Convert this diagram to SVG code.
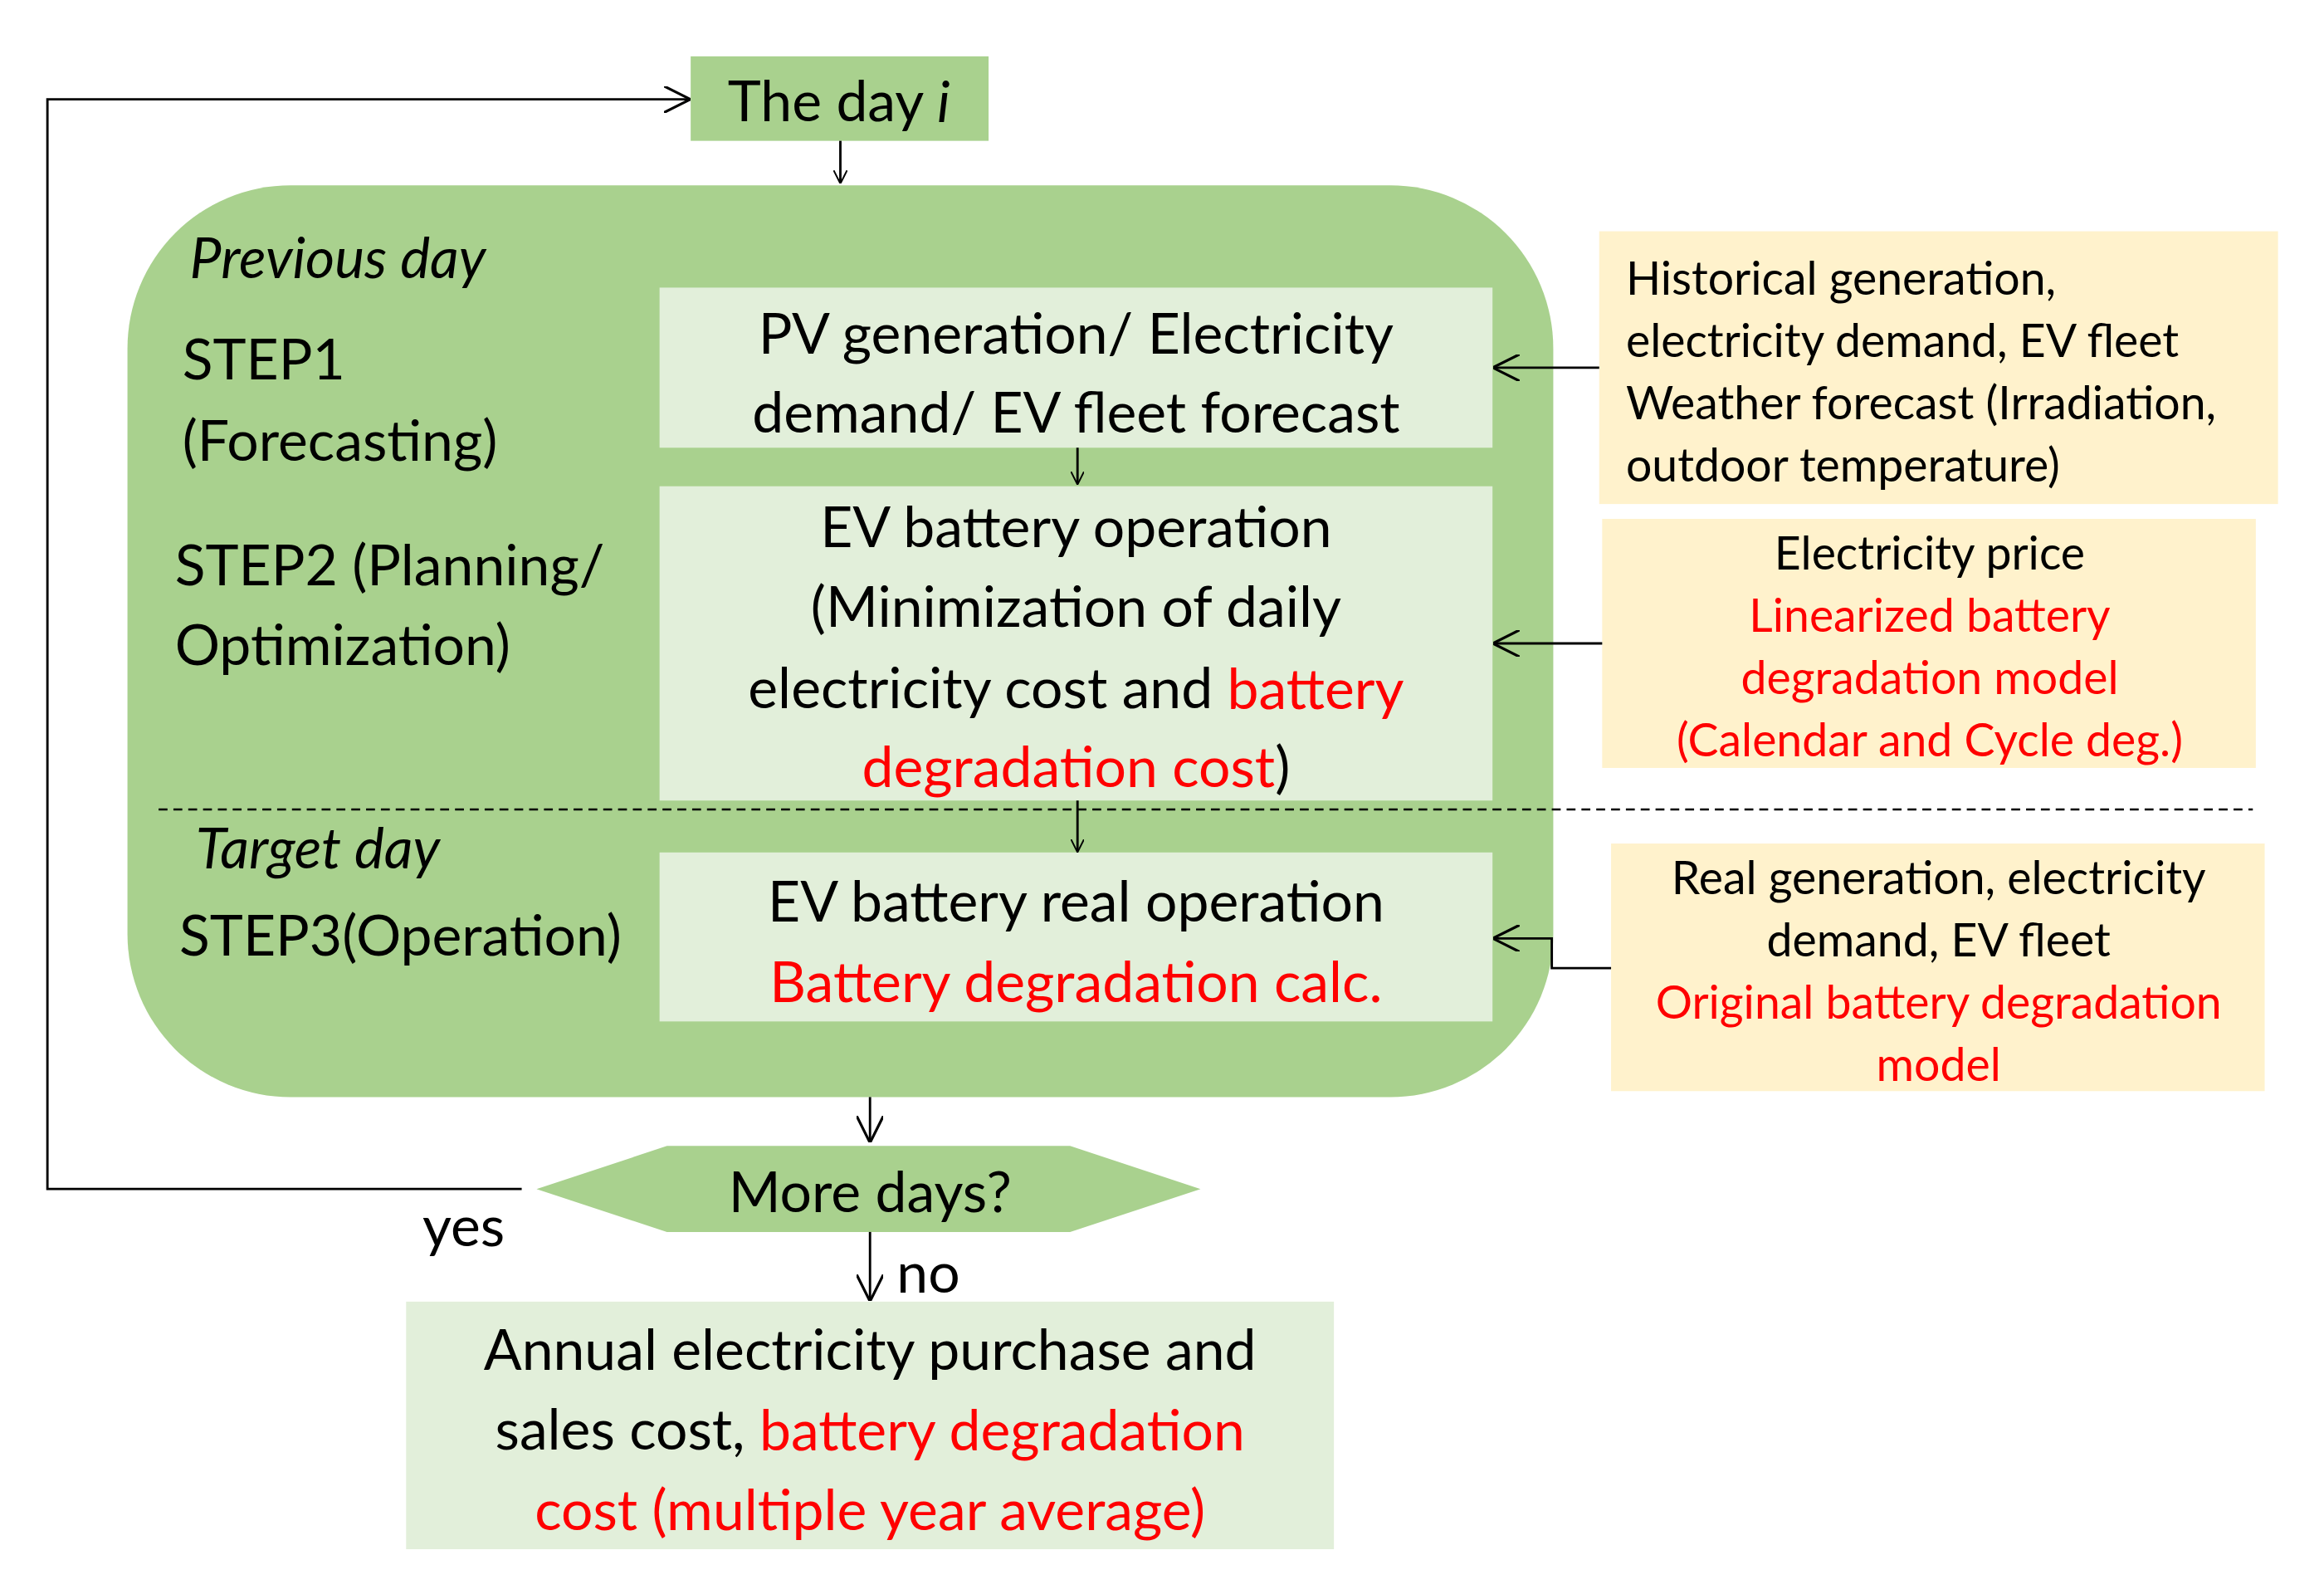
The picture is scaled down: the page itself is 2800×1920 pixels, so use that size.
<svg xmlns="http://www.w3.org/2000/svg" width="2800" height="1920" viewBox="0 0 2800 1920">
<defs>
<marker id="ah" viewBox="0 0 10 10" refX="9" refY="5" markerWidth="9" markerHeight="9" markerUnits="userSpaceOnUse" orient="auto"><path d="M0,0 L10,5 L0,10" fill="none" stroke="#000" stroke-width="1.2"/></marker>
<marker id="ahb" viewBox="0 0 10 10" refX="9" refY="5" markerWidth="18" markerHeight="18" markerUnits="userSpaceOnUse" orient="auto"><path d="M0,0 L10,5 L0,10" fill="none" stroke="#000" stroke-width="1"/></marker>
</defs>
<style>
text{font-family:Lato,"Open Sans","Liberation Sans",sans-serif;fill:#000;dominant-baseline:central}
.big{font-size:38px}
.sm{font-size:31px}
.c{text-anchor:middle}
.r{fill:#ff0000}
.lg{fill:#e2efda}
.yl{fill:#fff2cc}
.ln{fill:none;stroke:#000;stroke-width:1.6}
</style>
<rect width="2800" height="1920" fill="#fff"/>
<g transform="scale(1.7857)">
<g id="day"><rect x="466" y="38" width="201" height="57" fill="#a9d18e"/><text class="big c" x="566" y="67">The day <tspan font-style="italic">i</tspan></text></g>
<g id="main"><rect x="86" y="125" width="962" height="615" rx="110" fill="#a9d18e"/>
<text class="big" x="128" y="173" font-style="italic">Previous day</text>
<text class="big" x="123" y="241">STEP1</text><text class="big" x="123" y="296">(Forecasting)</text>
<text class="big" x="118" y="380">STEP2 (Planning/</text><text class="big" x="118" y="434">Optimization)</text>
<text class="big" x="132" y="571" font-style="italic">Target day</text>
<text class="big" x="121" y="630">STEP3(Operation)</text></g>
<g id="box1"><rect class="lg" x="445" y="194" width="562" height="108"/><text class="big c" x="726" y="224">PV generation/ Electricity</text><text class="big c" x="726" y="277">demand/ EV fleet forecast</text></g>
<g id="box2"><rect class="lg" x="445" y="328" width="562" height="212"/><text class="big c" x="726" y="354">EV battery operation</text><text class="big c" x="726" y="408">(Minimization of daily</text><text class="big c" x="726" y="463">electricity cost and <tspan class="r">battery</tspan></text><text class="big c" x="726" y="516"><tspan class="r">degradation cost</tspan>)</text></g>
<g id="box3"><rect class="lg" x="445" y="575" width="562" height="114"/><text class="big c" x="726" y="607">EV battery real operation</text><text class="big c r" x="726" y="661">Battery degradation calc.</text></g>
<g id="in1"><rect class="yl" x="1079" y="156" width="458" height="184"/><text class="sm" x="1097" y="187">Historical generation,</text><text class="sm" x="1097" y="229">electricity demand, EV fleet</text><text class="sm" x="1097" y="271">Weather forecast (Irradiation,</text><text class="sm" x="1097" y="313">outdoor temperature)</text></g>
<g id="in2"><rect class="yl" x="1081" y="350" width="441" height="168"/><text class="sm c" x="1302" y="372">Electricity price</text><text class="sm c r" x="1302" y="414">Linearized battery</text><text class="sm c r" x="1302" y="456">degradation model</text><text class="sm c r" x="1302" y="498">(Calendar and Cycle deg.)</text></g>
<g id="in3"><rect class="yl" x="1087" y="569" width="441" height="167"/><text class="sm c" x="1308" y="591">Real generation, electricity</text><text class="sm c" x="1308" y="633">demand, EV fleet</text><text class="sm c r" x="1308" y="675">Original battery degradation</text><text class="sm c r" x="1308" y="717">model</text></g>
<g id="more"><polygon points="362,802 450,773 722,773 810,802 722,831 450,831" fill="#a9d18e"/><text class="big c" x="587" y="803">More days?</text></g>
<g id="result"><rect class="lg" x="274" y="878" width="626" height="167"/><text class="big c" x="587" y="909">Annual electricity purchase and</text><text class="big c" x="587" y="963">sales cost, <tspan class="r">battery degradation</tspan></text><text class="big c r" x="587" y="1017">cost (multiple year average)</text></g>
<g id="connectors">
<path class="ln" d="M352,802 H32 V67 H464" marker-end="url(#ahb)"/>
<path class="ln" d="M567,95 V123" marker-end="url(#ah)"/>
<path class="ln" d="M727,302 V326" marker-end="url(#ah)"/>
<path class="ln" d="M727,540 V574" marker-end="url(#ah)"/>
<path class="ln" d="M1079,248 H1009" marker-end="url(#ahb)"/>
<path class="ln" d="M1081,434 H1009" marker-end="url(#ahb)"/>
<path class="ln" d="M1087,653 H1047 V633 H1009" marker-end="url(#ahb)"/>
<path class="ln" d="M587,740 V769" marker-end="url(#ahb)"/>
<path class="ln" d="M587,831 V876" marker-end="url(#ahb)"/>
<path d="M107,546 H1520" fill="none" stroke="#000" stroke-width="1.4" stroke-dasharray="6,4"/>
<text class="big" x="285" y="826">yes</text>
<text class="big" x="605" y="857">no</text>
</g>
</g>
</svg>
